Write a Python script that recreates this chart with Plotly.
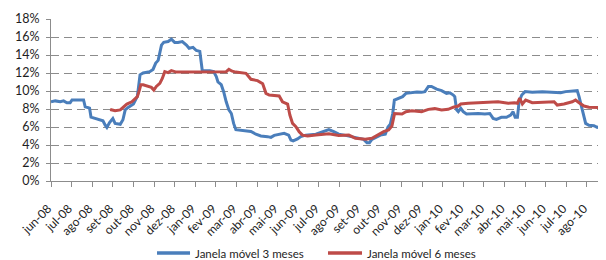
import plotly.graph_objects as go

# x positions are in months since jun-08 (0 = jun-08, 26 = ago-10)
month_labels = ["jun-08", "jul-08", "ago-08", "set-08", "out-08", "nov-08", "dez-08",
                "jan-09", "fev-09", "mar-09", "abr-09", "mai-09", "jun-09", "jul-09",
                "ago-09", "set-09", "out-09", "nov-09", "dez-09", "jan-10", "fev-10",
                "mar-10", "abr-10", "mai-10", "jun-10", "jul-10", "ago-10"]

t_3m = [0.00, 0.21, 0.45, 0.61, 0.77, 0.93, 1.02, 1.58, 1.66, 1.87, 1.94, 2.39, 2.52, 2.63,
        2.71, 2.84, 3.00, 3.11, 3.36, 3.49, 3.60, 3.76, 4.00, 4.19, 4.32, 4.47, 4.79, 4.95,
        5.08, 5.20, 5.36, 5.47, 5.68, 5.84, 6.00, 6.16, 6.37, 6.57, 6.70, 6.89, 7.05, 7.22,
        7.29, 7.34, 7.70, 7.89, 8.02, 8.10, 8.26, 8.38, 8.50, 8.63, 8.75, 8.86, 8.97, 9.13,
        9.46, 9.70, 9.94, 10.18, 10.51, 10.67, 10.83, 11.07, 11.31, 11.53, 11.64, 11.75,
        11.96, 12.12, 12.36, 12.85, 13.33, 13.48, 13.72, 13.96, 14.29, 14.61, 14.93, 15.17,
        15.33, 15.45, 15.57, 15.74, 15.98, 16.22, 16.35, 16.46, 16.58, 16.66, 16.87, 17.06,
        17.22, 17.43, 17.75, 17.98, 18.14, 18.31, 18.46, 18.71, 18.95, 19.19, 19.35, 19.52,
        19.59, 19.68, 19.76, 19.88, 20.00, 20.16, 20.40, 20.73, 21.05, 21.29, 21.45, 21.61,
        21.85, 22.10, 22.30, 22.42, 22.52, 22.63, 22.71, 22.84, 23.00, 23.35, 23.84, 24.32,
        24.73, 24.97, 25.21, 25.53, 25.62, 25.78, 25.94, 26.10, 26.34, 26.50, 26.66, 26.83]
v_3m = [8.8, 8.9, 8.8, 8.9, 8.7, 8.7, 9.0, 9.0, 8.25, 8.1, 7.1, 6.85, 6.7, 6.2,
        5.95, 6.5, 6.95, 6.4, 6.3, 6.8, 7.9, 8.2, 8.55, 9.4, 11.8, 12.0, 12.15, 12.4,
        13.1, 13.4, 15.1, 15.4, 15.5, 15.75, 15.4, 15.4, 15.5, 15.1, 14.75, 14.85, 14.5, 14.4,
        13.1, 12.25, 12.25, 12.15, 11.6, 11.0, 10.7, 9.9, 8.8, 7.9, 7.5, 6.4, 5.7, 5.67,
        5.55, 5.5, 5.2, 5.0, 4.93, 4.85, 5.07, 5.2, 5.3, 5.1, 4.55, 4.45,
        4.67, 4.93, 5.1, 5.2, 5.6, 5.7, 5.48, 5.2, 5.07, 4.93, 4.74, 4.63,
        4.26, 4.26, 4.63, 4.85, 5.1, 5.2, 6.0, 6.3, 7.5, 9.0, 9.2, 9.37,
        9.74, 9.8, 9.9, 9.85, 9.93, 10.5, 10.5, 10.2, 10.04, 9.74, 9.8, 9.55,
        9.37, 7.9, 7.7, 8.07, 7.7, 7.44, 7.5, 7.5, 7.44, 7.5, 6.96, 6.85,
        7.07, 7.07, 7.33, 7.7, 7.07, 7.07, 8.8, 9.55, 9.93, 9.85, 9.93, 9.85,
        9.8, 9.93, 10.0, 10.04, 9.37, 7.9, 6.4, 6.2, 6.15, 5.96, 6.1, 6.2]

t_6m = [2.87, 3.11, 3.36, 3.52, 3.68, 3.92, 4.08, 4.19, 4.29, 4.36, 4.47, 4.71, 4.87, 4.99,
        5.11, 5.28, 5.40, 5.52, 5.68, 5.84, 6.08, 6.55, 7.23, 7.96, 8.34, 8.50, 8.63, 8.79,
        8.97, 9.46, 9.70, 10.02, 10.27, 10.43, 10.59, 11.07, 11.23, 11.48, 11.59, 11.72,
        11.88, 12.04, 12.20, 12.45, 12.85, 13.48, 13.96, 14.45, 14.77, 15.25, 15.57, 15.90,
        16.14, 16.38, 16.54, 16.67, 16.87, 17.03, 17.22, 17.51, 17.98, 18.31, 18.62, 18.95,
        19.27, 19.52, 19.76, 19.88, 20.24, 20.89, 21.69, 22.18, 22.48, 22.63, 22.74, 22.87,
        23.03, 23.35, 24.00, 24.41, 24.56, 24.89, 25.29, 25.45, 25.62, 25.86, 26.10, 26.83]
v_6m = [7.95, 7.8, 7.9, 8.26, 8.55, 8.8, 9.2, 9.37, 10.1, 10.7, 10.7, 10.5, 10.4, 10.1,
        10.5, 10.85, 11.4, 12.15, 12.04, 12.26, 12.1, 12.1, 12.1, 12.1, 12.1, 12.15, 12.4, 12.2,
        12.1, 11.96, 11.3, 11.15, 10.8, 9.74, 9.55, 9.44, 8.8, 8.55, 7.33, 6.4,
        6.04, 5.48, 5.1, 5.0, 5.1, 5.25, 5.07, 5.1, 4.74, 4.63, 4.74, 5.2,
        5.48, 5.67, 6.1, 7.5, 7.5, 7.44, 7.7, 7.8, 7.7, 7.96, 8.04, 7.9,
        7.96, 8.2, 8.33, 8.55, 8.63, 8.74, 8.8, 8.63, 8.7, 8.63, 9.2, 8.55,
        9.0, 8.7, 8.8, 8.8, 8.44, 8.55, 8.8, 9.0, 8.7, 8.33, 8.2, 8.15]

y_ticks = [0, 2, 4, 6, 8, 10, 12, 14, 16, 18]
y_tick_labels = ["0%", "2%", "4%", "6%", "8%", "10%", "12%", "14%", "16%", "18%"]
series_names = ["Janela móvel 3 meses", "Janela móvel 6 meses"]

BLUE = "#4a7ebb"
RED = "#be4b48"
GRID = "#8c8c8c"
FONT = "Lato"

fig = go.Figure()
fig.add_trace(go.Scatter(x=t_3m, y=v_3m, mode="lines", name=series_names[0],
                         line=dict(color=BLUE, width=3)))
fig.add_trace(go.Scatter(x=t_6m, y=v_6m, mode="lines", name=series_names[1],
                         line=dict(color=RED, width=3)))

# legend drawn below the plot (line sample + label), positioned in paper units
legend_y = 0.0526
legend_items = [(0.1917, 0.2514, 0.2568, BLUE, series_names[0]),
                (0.5009, 0.5624, 0.5678, RED, series_names[1])]
for x0, x1, xt, col, label in legend_items:
    fig.add_shape(type="line", xref="paper", yref="paper", x0=x0, x1=x1,
                  y0=legend_y, y1=legend_y, line=dict(color=col, width=3.5))
    fig.add_annotation(xref="paper", yref="paper", x=xt, y=legend_y, text=label,
                       showarrow=False, xanchor="left", yanchor="middle",
                       font=dict(size=11.5, family=FONT, color="#1e1e1e"))

fig.update_layout(
    width=606, height=260,
    margin=dict(l=43, r=10, t=11, b=2, autoexpand=False),
    paper_bgcolor="white", plot_bgcolor="white",
    font=dict(family=FONT, size=12, color="#1e1e1e"),
    showlegend=False,
    xaxis=dict(range=[0, 26.83], tickmode="array", tickvals=list(range(len(month_labels))),
               ticktext=month_labels, tickangle=-45, showgrid=False, zeroline=False,
               showline=True, linecolor=GRID, linewidth=1, ticks="outside", ticklen=5,
               tickcolor=GRID, automargin=False, tickfont=dict(size=12),
               ticklabelstandoff=10, ticklabelshift=-3),
    yaxis=dict(range=[0, 18], domain=[0.3441, 1], tickmode="array", tickvals=y_ticks,
               ticktext=y_tick_labels, showgrid=True, gridcolor=GRID, griddash="8px,5px",
               gridwidth=1, zeroline=False, showline=True, linecolor=GRID, linewidth=1,
               ticks="outside", ticklen=4, tickcolor=GRID, automargin=False,
               tickfont=dict(size=12.5), ticklabelstandoff=4),
)

fig.write_html("out.html")
